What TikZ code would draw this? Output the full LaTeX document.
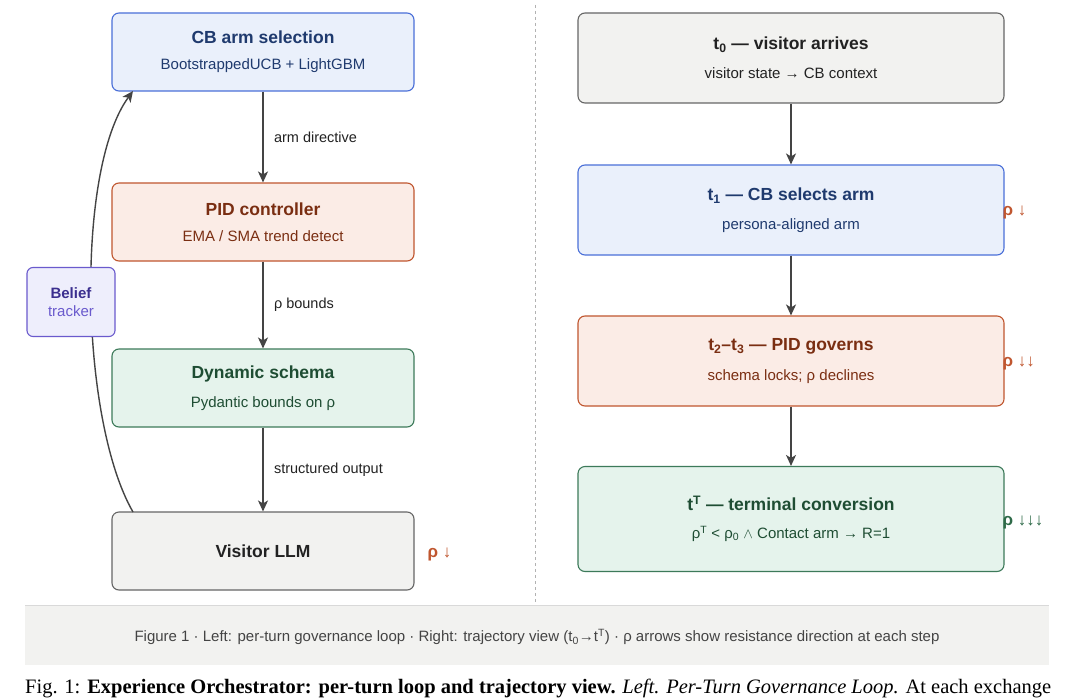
\documentclass[tikz,border=0pt]{standalone}
\usepackage{fontspec}
\setmainfont{Liberation Sans}
\newfontfamily\serifF{Liberation Serif}
\usetikzlibrary{arrows.meta}
\definecolor{bF}{HTML}{EAF0FB}\definecolor{bD}{HTML}{4A6FD8}\definecolor{bT}{HTML}{1F3A6E}\definecolor{bS}{HTML}{2F4F95}
\definecolor{oF}{HTML}{FBECE6}\definecolor{oD}{HTML}{C0562F}\definecolor{oT}{HTML}{7A2E12}\definecolor{oS}{HTML}{9A3E1C}
\definecolor{gF}{HTML}{E5F3EC}\definecolor{gD}{HTML}{3D7A5A}\definecolor{gT}{HTML}{1E4D33}\definecolor{gS}{HTML}{2E6A48}
\definecolor{kF}{HTML}{F2F2F0}\definecolor{kD}{HTML}{666666}\definecolor{kT}{HTML}{222222}\definecolor{kS}{HTML}{444444}
\definecolor{pF}{HTML}{EEEEFC}\definecolor{pD}{HTML}{6A5ACD}\definecolor{pT}{HTML}{3B2F8F}
\definecolor{rho}{HTML}{C0562F}
\tikzset{
 box/.style={draw, rounded corners=7pt, line width=1.1pt, align=center, inner sep=0pt},
 L/.style={box, minimum width=302pt, minimum height=78pt},
 R/.style={box, minimum width=426pt, minimum height=90pt},
 arr/.style={-{Stealth[length=11pt,width=10pt,inset=3pt]}, line width=1.4pt, draw=kS},
 elab/.style={font=\fontsize{14.5}{16}\selectfont, text=kT, anchor=west},
 rl/.style={font=\fontsize{17}{19}\selectfont\bfseries, anchor=west}
}
\newcommand\bx[3]{{\fontsize{17.5}{20}\selectfont\bfseries\color{#1}#2}\\[14pt]{\fontsize{15}{17}\selectfont\color{#1}#3}}
\begin{document}
\begin{tikzpicture}[x=1pt,y=-1pt]
\useasboundingbox (0,0) rectangle (1078,698);
\fill[white] (0,0) rectangle (1078,698);
\draw[dashed, draw=black!30, line width=0.8pt] (535,5) -- (535,603);
% left
\node[L, fill=bF, draw=bD] (cb) at (263,52) {\bx{bT}{CB arm selection}{BootstrappedUCB + LightGBM}};
\node[L, fill=oF, draw=oD] (pid) at (263,222) {\bx{oT}{PID controller}{EMA / SMA trend detect}};
\node[L, fill=gF, draw=gD] (ds) at (263,388) {\bx{gT}{Dynamic schema}{Pydantic bounds on ρ}};
\node[L, fill=kF, draw=kD, font=\fontsize{17.5}{20}\selectfont\bfseries, text=kT] (llm) at (263,551) {Visitor LLM};
\draw[arr] (cb) -- node[elab, xshift=7pt]{arm directive} (pid);
\draw[arr] (pid) -- node[elab, xshift=7pt]{ρ bounds} (ds);
\draw[arr] (ds) -- node[elab, xshift=7pt]{structured output} (llm);
\coordinate (fa) at (133,512);
\coordinate (fb) at (133,91);
\draw[arr] (fa) .. controls (80,420) and (75,170) .. (fb);
\node[box, rounded corners=6pt, fill=pF, draw=pD, minimum width=88pt, minimum height=69pt] (bel) at (71,302)
 {{\fontsize{15}{17}\selectfont\bfseries\color{pT}Belief}\\[6pt]{\fontsize{15}{17}\selectfont\color{pD}tracker}};
\node[rl, text=rho] (r0) at (424,554) {ρ ↓};
% right
\node[R, fill=kF, draw=kD] (t0) at (791,58) {\bx{kT}{t\textsubscript{0} — visitor arrives}{visitor state → CB context}};
\node[R, fill=bF, draw=bD] (t1) at (791,210) {\bx{bT}{t\textsubscript{1} — CB selects arm}{persona-aligned arm}};
\node[R, fill=oF, draw=oD] (t2) at (791,361) {\bx{oT}{t\textsubscript{2}–t\textsubscript{3} — PID governs}{schema locks; ρ declines}};
\node[R, fill=gF, draw=gD, minimum height=105pt] (tT) at (791,519) {\bx{gT}{t\textsuperscript{T} — terminal conversion}{ρ\textsuperscript{T} < ρ\textsubscript{0} $\wedge$ Contact arm → R=1}};
\draw[arr] (t0) -- (t1);
\draw[arr] (t1) -- (t2);
\draw[arr] (t2) -- (tT);
\node[rl, text=rho] at (999,212) {ρ ↓};
\node[rl, text=rho] at (999,363) {ρ ↓↓};
\node[rl, text=gS] at (999,522) {ρ ↓↓↓};
% caption band
\fill[kF] (25,605) rectangle (1049,665);
\draw[black!15, line width=0.8pt] (25,605) -- (1049,605);
\node[font=\fontsize{15}{17}\selectfont, text=kS] (cap) at (537,637) {Figure 1 · Left: per-turn governance loop · Right: trajectory view (t\textsubscript{0}→t\textsuperscript{T}) · ρ arrows show resistance direction at each step};
\node[anchor=west, font=\serifF\fontsize{20.5}{22}\selectfont, inner sep=0pt] (fig) at (25,688) {Fig. 1: \textbf{Experience Orchestrator: per-turn loop and trajectory view.} \textit{Left. Per-Turn Governance Loop.} At each exchange};
\end{tikzpicture}
\end{document}
